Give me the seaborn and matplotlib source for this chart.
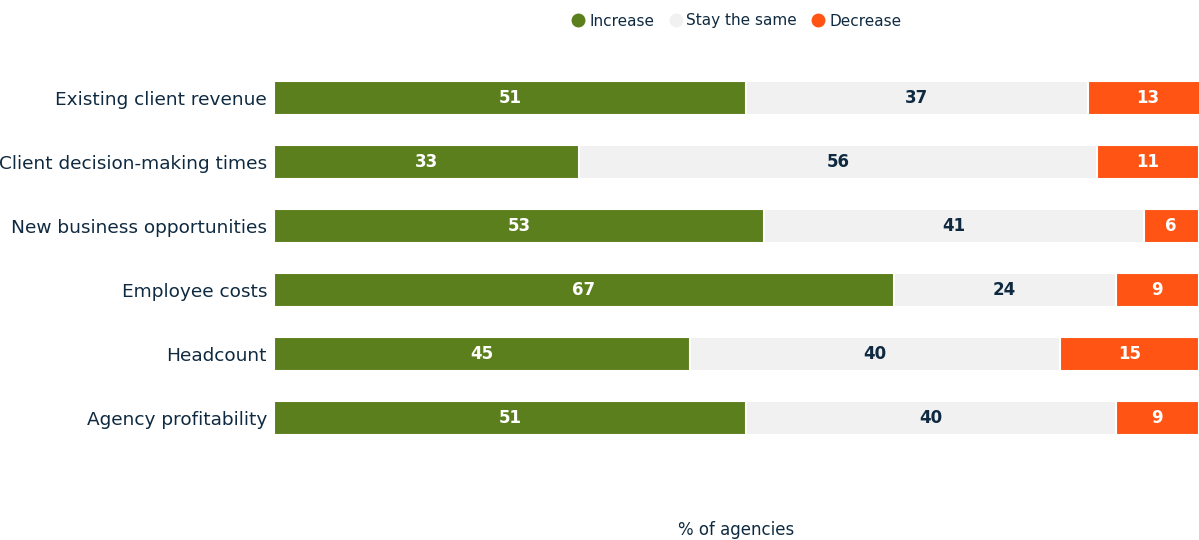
import numpy as np
import pandas as pd
import seaborn as sns
import matplotlib
matplotlib.use('Agg')
import matplotlib.pyplot as plt
from matplotlib.lines import Line2D

categories = ['Existing client revenue', 'Client decision-making times',
              'New business opportunities', 'Employee costs', 'Headcount',
              'Agency profitability']
increase = [51, 33, 53, 67, 45, 51]
same = [37, 56, 41, 24, 40, 40]
decrease = [13, 11, 6, 9, 15, 9]

GREEN = '#5b7f1d'
GREY = '#f1f1f1'
ORANGE = '#ff5413'
NAVY = '#0f2a40'

sns.set_theme(style='white')
plt.rcParams['font.family'] = ['DejaVu Sans']

df = pd.DataFrame({'cat': categories, 'inc': increase, 'same': same, 'dec': decrease})
df['c1'] = df['inc']
df['c2'] = df['inc'] + df['same']
df['c3'] = df['c2'] + df['dec']

fig = plt.figure(figsize=(11.99, 5.40), dpi=100)
ax = fig.add_axes([274/1199, 90/540, 1 - 274/1199, (450-66)/540])

# stacked look: draw cumulative totals longest first
for col, colr in [('c3', ORANGE), ('c2', GREY), ('c1', GREEN)]:
    sns.barplot(data=df, y='cat', x=col, color=colr, orient='h', width=0.53,
                edgecolor='white', linewidth=1.5, saturation=1, ax=ax)

for i, r in df.iterrows():
    ax.text(r['inc'] / 2, i, str(r['inc']), ha='center', va='center',
            color='white', fontsize=12, fontweight='bold')
    ax.text(r['c1'] + r['same'] / 2, i, str(r['same']), ha='center', va='center',
            color=NAVY, fontsize=12, fontweight='bold')
    ax.text(r['c2'] + r['dec'] / 2, i, str(r['dec']), ha='center', va='center',
            color='white', fontsize=12, fontweight='bold')

ax.set_xlim(0, 100)
ax.set_ylim(5.5, -0.5)
ax.set_ylabel('')
ax.set_xlabel('% of agencies', color=NAVY, fontsize=12, labelpad=0)
ax.xaxis.set_label_coords(0.5, -0.185)
ax.set_xticks([])
ax.tick_params(axis='y', length=0, labelsize=13.3, labelcolor=NAVY, pad=5)
sns.despine(ax=ax, left=True, bottom=True)

handles = [Line2D([], [], marker='o', ls='', color=c, markersize=9)
           for c in [GREEN, GREY, ORANGE]]
fig.legend(handles, ['Increase', 'Stay the same', 'Decrease'], ncol=3,
           loc='center', bbox_to_anchor=(736/1199, 1 - 21/540), frameon=False,
           fontsize=11, labelcolor=NAVY, handletextpad=0.2, columnspacing=0.9,
           handlelength=1.0)

fig.savefig('out.png', dpi=100)
